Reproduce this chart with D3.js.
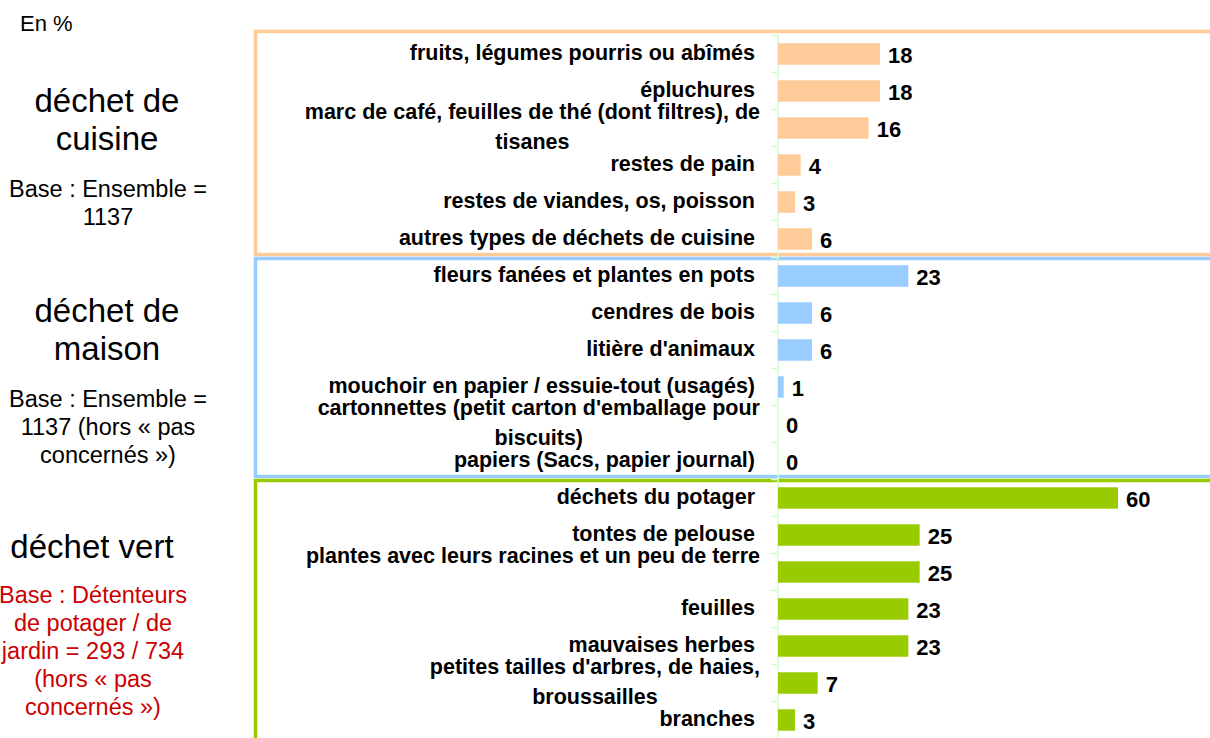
<!DOCTYPE html>
<html>
<head>
<meta charset="utf-8" />
<script src="https://d3js.org/d3.v7.min.js"></script>
<style>
  body { margin: 0; background: #ffffff; overflow: hidden; }
  text { font-family: "Liberation Sans", Arial, sans-serif; fill: #000000; }
  .cat { font-weight: bold; font-size: 21.5px; }
  .val { font-weight: bold; font-size: 22px; }
  .title { font-size: 33px; }
  .base { font-size: 23.5px; }
  .red { fill: #cc0000; }
  .axis { stroke: #ccffcc; stroke-width: 1.5; fill: none; }
</style>
</head>
<body>
<div id="chart"></div>
<script>
var w = 1210, h = 738;

// categories ("\n" = wrapped line as in the original)
var cuisineLabels = [
  "fruits, légumes pourris ou abîmés",
  "épluchures",
  "marc de café, feuilles de thé (dont filtres), de\ntisanes",
  "restes de pain",
  "restes de viandes, os, poisson",
  "autres types de déchets de cuisine"
];
var cuisineValues = [18, 18, 16, 4, 3, 6];

var maisonLabels = [
  "fleurs fanées et plantes en pots",
  "cendres de bois",
  "litière d'animaux",
  "mouchoir en papier / essuie-tout (usagés)",
  "cartonnettes (petit carton d'emballage pour\nbiscuits)",
  "papiers (Sacs, papier journal)"
];
var maisonValues = [23, 6, 6, 1, 0, 0];

var vertLabels = [
  "déchets du potager",
  "tontes de pelouse",
  "plantes avec leurs racines et un peu de terre\n",
  "feuilles",
  "mauvaises herbes",
  "petites tailles d'arbres, de haies,\nbroussailles",
  "branches"
];
var vertValues = [60, 25, 25, 23, 23, 7, 3];

var groupNames = ["cuisine", "maison", "vert"];
var groupColors = ["#ffcc99", "#99ccff", "#99cc00"];

var rows = [];
[[cuisineLabels, cuisineValues], [maisonLabels, maisonValues], [vertLabels, vertValues]]
  .forEach(function(g, gi) {
    g[0].forEach(function(l, i) {
      rows.push({ label: l, value: g[1][i], group: gi });
    });
  });

var svg = d3.select("#chart").append("svg")
  .attr("width", w).attr("height", h)
  .style("display", "block");

var y = d3.scaleBand().domain(d3.range(rows.length))
  .range([35.5, 35.5 + 37 * rows.length])
  .paddingInner(0.42).paddingOuter(0.21);
var x = d3.scaleLinear().domain([0, 60]).range([778, 1118]);

var gap = (y.step() - y.bandwidth()) / 2;
function boundary(i) { return y(0) - gap + i * y.step(); }

// coloured frames round each group
groupNames.forEach(function(name, gi) {
  var idx = rows.map(function(r, i) { return r.group === gi ? i : -1; })
    .filter(function(i) { return i >= 0; });
  var top = boundary(idx[0]) + (gi === 0 ? -4 : 1);
  var bottom = gi === 2 ? h + 10 : boundary(idx[idx.length - 1] + 1) - 3;
  svg.append("rect")
    .attr("x", 255.5).attr("y", top)
    .attr("width", w).attr("height", bottom - top)
    .attr("fill", "none")
    .attr("stroke", groupColors[gi]).attr("stroke-width", 3.5);
});

// axis line and ticks at band boundaries
svg.append("line").attr("class", "axis")
  .attr("x1", x(0)).attr("x2", x(0))
  .attr("y1", boundary(0)).attr("y2", h);
svg.selectAll("line.tick").data(d3.range(rows.length)).enter()
  .append("line").attr("class", "axis tick")
  .attr("x1", x(0) - 7).attr("x2", x(0))
  .attr("y1", function(i) { return boundary(i); })
  .attr("y2", function(i) { return boundary(i); });

// bars (zero values get no bar)
svg.selectAll("rect.bar").data(rows.filter(function(d) { return d.value > 0; }))
  .enter().append("rect")
  .attr("class", "bar")
  .attr("x", x(0))
  .attr("y", function(d) { return y(rows.indexOf(d)); })
  .attr("width", function(d) { return x(d.value) - x(0); })
  .attr("height", y.bandwidth())
  .attr("fill", function(d) { return groupColors[d.group]; });

// values
svg.selectAll("text.val").data(rows).enter().append("text")
  .attr("class", "val")
  .attr("x", function(d) { return x(d.value) + 8; })
  .attr("y", function(d, i) { return y(i) + y.bandwidth() / 2 + 8.5; })
  .text(function(d) { return d.value; });

// category labels
rows.forEach(function(d, i) {
  var c = y(i) + y.bandwidth() / 2;
  var lines = d.label.split("\n");
  var t = svg.append("text").attr("class", "cat");
  if (lines.length === 1) {
    t.attr("text-anchor", "end").attr("x", 755).attr("y", c + 6).text(lines[0]);
  } else {
    var spans = lines.map(function(l, k) {
      return t.append("tspan").attr("y", c - 9 + k * 30).text(l);
    });
    var maxW = d3.max(spans, function(s) { return s.node().getComputedTextLength(); });
    var cx = 760 - maxW / 2;
    t.attr("text-anchor", "middle");
    spans.forEach(function(s) { s.attr("x", cx); });
  }
});

// left titles
function block(lines, cx, y0, dy, cls) {
  lines.forEach(function(l, k) {
    svg.append("text").attr("class", cls).attr("text-anchor", "middle")
      .attr("x", cx).attr("y", y0 + k * dy).text(l);
  });
}
svg.append("text").attr("class", "base").attr("x", 20).attr("y", 31)
  .style("font-size", "22px").text("En %");

block(["déchet de", "cuisine"], 107, 112, 38, "title");
block(["Base : Ensemble =", "1137"], 108, 197, 28, "base");

block(["déchet de", "maison"], 107, 322, 38, "title");
block(["Base : Ensemble =", "1137 (hors « pas", "concernés »)"], 108, 407, 28, "base");

block(["déchet vert"], 92, 558, 38, "title");
block(["Base : Détenteurs", "de potager / de", "jardin = 293 / 734", "(hors « pas", "concernés »)"],
  93, 603, 28, "base red");
</script>
</body>
</html>
